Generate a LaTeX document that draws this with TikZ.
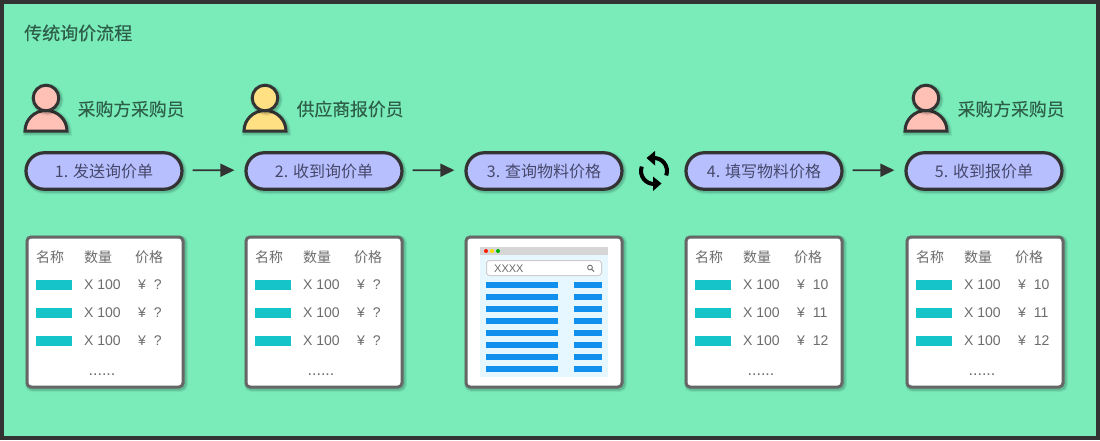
\documentclass[tikz,border=0pt]{standalone}
\usepackage{fontspec}
\setmainfont{Noto Sans CJK SC}
\newfontfamily\latinfont{Liberation Sans}
\newfontfamily\medfont[FakeBold=0.35]{Noto Sans CJK SC}
\newfontfamily\semifont[FakeBold=0.15]{Noto Sans CJK SC}
\usetikzlibrary{shapes.misc,arrows.meta}
\definecolor{mint}{HTML}{79ECBA}
\definecolor{frame}{HTML}{333333}
\definecolor{greenink}{HTML}{2E5F48}
\definecolor{pillfill}{HTML}{B8BFFF}
\definecolor{pilltext}{HTML}{46486A}
\definecolor{cardline}{HTML}{666666}
\definecolor{tabletext}{HTML}{6C6C6C}
\definecolor{teal}{HTML}{14C4C8}
\definecolor{pinkf}{HTML}{FFC1B5}
\definecolor{yellowf}{HTML}{FFE082}
\definecolor{blueb}{HTML}{1290EE}
\definecolor{panel}{HTML}{E6F7FF}
\tikzset{
  softshadow/.style={
    preaction={draw=black,draw opacity=.05,line width=7pt,transform canvas={xshift=1.5pt,yshift=-1.5pt}},
    preaction={draw=black,draw opacity=.07,line width=5pt,transform canvas={xshift=1.5pt,yshift=-1.5pt}},
    preaction={draw=black,draw opacity=.09,line width=3.5pt,transform canvas={xshift=1.5pt,yshift=-1.5pt}}},
  pill/.style={rounded rectangle,minimum width=156pt,minimum height=36.5pt,inner sep=0pt,draw=frame,line width=3.2pt,fill=pillfill,softshadow,text=pilltext,font=\fontsize{16}{18}\selectfont},
  card/.style={rectangle,rounded corners=4pt,minimum width=156pt,minimum height=150pt,inner sep=0pt,draw=cardline,line width=3pt,fill=white,softshadow},
  heading/.style={anchor=west,inner sep=0pt,text=greenink,font=\fontsize{17.8}{20}\semifont},
  cell/.style={anchor=west,inner sep=0pt,text=tabletext,font=\fontsize{14}{16}\selectfont},
  flow/.style={draw=frame,line width=1.6pt,-{Triangle[length=14pt,width=13pt]},shorten <=9pt,shorten >=10pt,transform canvas={yshift=0.8pt}},
  personline/.style={draw=frame,line width=3pt,softshadow}
}
\newcommand{\person}[2]{%
  \begin{scope}[shift={(#1,0)}]
    \path[personline,fill=#2] (-21,131) arc[start angle=180,end angle=360,x radius=21,y radius=20.5] -- cycle;
    \path[personline,fill=#2] (0,98) circle[radius=12.8];
  \end{scope}}
\newcommand{\tablecard}[4]{%
  \begin{scope}[shift={(#1,0)}]
    \node[cell] at (36,257) {名称};
    \node[cell] at (84,257) {数量};
    \node[cell] at (135,257) {价格};
    \fill[teal] (36,280) rectangle (72,290);
    \fill[teal] (36,308) rectangle (72,318);
    \fill[teal] (36,336) rectangle (72,346);
    \node[cell] at (84,285) {\latinfont X 100};
    \node[cell] at (84,313) {\latinfont X 100};
    \node[cell] at (84,341) {\latinfont X 100};
    \node[cell] at (138,285) {\latinfont ¥\ \ #2};
    \node[cell] at (138,313) {\latinfont ¥\ \ #3};
    \node[cell] at (138,341) {\latinfont ¥\ \ #4};
    \node[cell,anchor=center,font=\fontsize{16}{18}\selectfont] at (102,374.5) {\latinfont ......};
  \end{scope}}
\begin{document}
\begin{tikzpicture}[x=1pt,y=-1pt]
\useasboundingbox (0,0) rectangle (1100,440);
\fill[frame] (0,0) rectangle (1100,440);
\fill[mint] (4,4) rectangle (1096,436);
\node[heading,font=\fontsize{18}{20}\medfont] (title) at (24,33) {传统询价流程};
% people
\person{46}{pinkf}
\person{265}{yellowf}
\person{926}{pinkf}
\node[heading] (role1) at (77.5,109) {采购方采购员};
\node[heading] (role2) at (296.5,109) {供应商报价员};
\node[heading] (role5) at (957.5,109) {采购方采购员};
% steps
\node[pill] (s1) at (104,171) {1. 发送询价单};
\node[pill] (s2) at (324,171) {2. 收到询价单};
\node[pill] (s3) at (544,171) {3. 查询物料价格};
\node[pill] (s4) at (764,171) {4. 填写物料价格};
\node[pill] (s5) at (984,171) {5. 收到报价单};
\draw[flow] (s1) -- (s2);
\draw[flow] (s2) -- (s3);
\draw[flow] (s4) -- (s5);
% refresh icon
\draw[black,line width=4pt] (654,171) ++(20:13) arc[start angle=20,end angle=-90,radius=13];
\fill[black] (655,151) -- (655,165.5) -- (646.5,158) -- cycle;
\draw[black,line width=4pt] (654,171) ++(200:13) arc[start angle=200,end angle=90,radius=13];
\fill[black] (653,176.5) -- (653,191) -- (661.5,183.5) -- cycle;
% cards
\node[card] (c1) at (105,312) {};
\node[card] (c2) at (324,312) {};
\node[card] (c3) at (544,312) {};
\node[card] (c4) at (764,312) {};
\node[card] (c5) at (985,312) {};
\tablecard{0}{?}{?}{?}
\tablecard{219}{?}{?}{?}
\tablecard{659}{10}{11}{12}
\tablecard{880}{10}{11}{12}
% browser
\fill[panel] (480,247) rectangle (608,377);
\fill[black!16] (480,247) rectangle (608,255);
\fill[red!80!orange] (486,251) circle[radius=2];
\fill[yellow!80!orange] (492,251) circle[radius=2];
\fill[green!70!black] (498,251) circle[radius=2];
\draw[black!20,fill=white,line width=1pt,rounded corners=3pt] (486.5,260.5) rectangle (601.5,275.5);
\node[cell,font=\fontsize{11}{12}\selectfont\latinfont] (q) at (494,268.5) {XXXX};
\draw[black!60,line width=.8pt] (590,267.5) circle[radius=2.4] (591.8,269.3) -- (594,271.5);
\foreach \i in {0,...,7}{
  \fill[blueb] (486,282+12*\i) rectangle (558,288+12*\i);
  \fill[blueb] (574,282+12*\i) rectangle (602,288+12*\i);
}
\end{tikzpicture}
\end{document}
